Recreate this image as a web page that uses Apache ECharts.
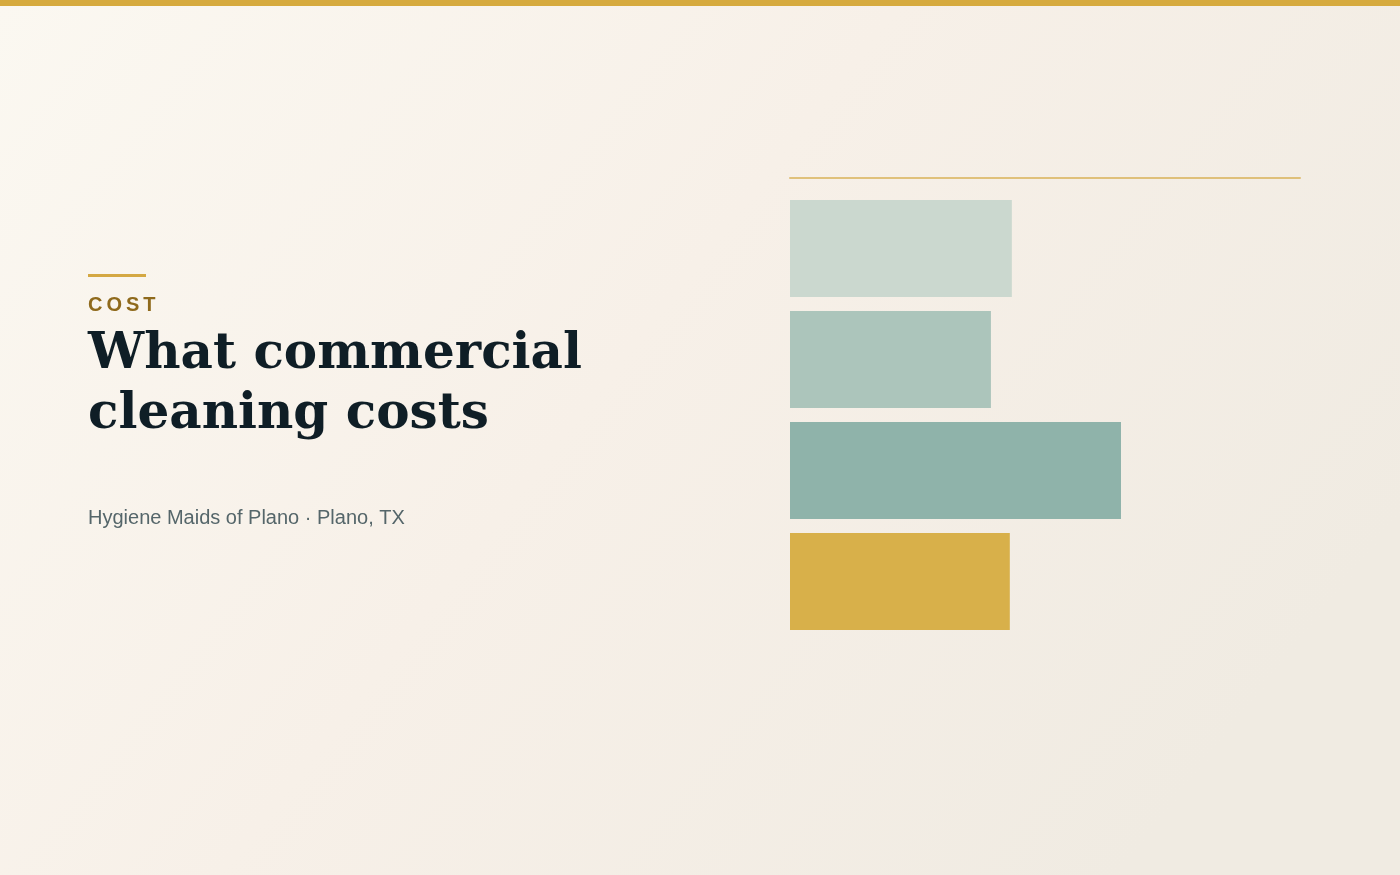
<!DOCTYPE html>
<html>
<head>
<meta charset="utf-8">
<script src="https://cdn.jsdelivr.net/npm/echarts@6/dist/echarts.min.js"></script>
<style>
html,body{margin:0;padding:0;width:1400px;height:875px;overflow:hidden;background:#f7f1e9;}
#chart{width:1400px;height:875px;}
</style>
</head>
<body>
<div id="chart"></div>
<script>
// Data
const categories = ["Option A", "Option B", "Option C", "Option D"];
const values = [43.5, 39.4, 64.9, 43.1];
const axisMax = 100;
const kicker = "COST";
const titleLines = ["What commercial", "cleaning costs"];
const subtitle = "Hygiene Maids of Plano \u00b7 Plano, TX";

// Styles
const barColors = ["#cbd8cf", "#acc5bb", "#8fb3aa", "#d8b04a"];

const chart = echarts.init(document.getElementById('chart'), null, {renderer: 'canvas'});

const kickerRich = kicker.split('').map(c => '{k|' + c + '}').join('');

const option = {
  animation: false,
  backgroundColor: {
    type: 'linear', x: 0, y: 0, x2: 0.8, y2: 1,
    colorStops: [
      {offset: 0, color: '#fbf8f1'},
      {offset: 0.5, color: '#f7f0e8'},
      {offset: 1, color: '#f0ebe2'}
    ]
  },
  grid: {left: 790, top: 193, width: 510, height: 444, outerBoundsMode: 'none', containLabel: false},
  xAxis: {
    type: 'value', position: 'top', min: 0, max: axisMax, offset: 15,
    axisLine: {show: true, lineStyle: {color: 'rgba(212,168,64,0.65)', width: 2}},
    axisTick: {show: false}, axisLabel: {show: false}, splitLine: {show: false}
  },
  yAxis: {
    type: 'category', data: categories, inverse: true,
    axisLine: {show: false}, axisTick: {show: false}, axisLabel: {show: false}, splitLine: {show: false}
  },
  series: [{
    type: 'bar',
    data: values.map((v, i) => ({value: v, itemStyle: {color: barColors[i % barColors.length]}})),
    barCategoryGap: '12.6%',
    silent: true
  }],
  graphic: [
    {type: 'rect', left: 0, top: 0, shape: {width: 1400, height: 6}, style: {fill: '#d6aa3e'}, silent: true},
    {type: 'rect', shape: {x: 88, y: 274, width: 58, height: 3}, style: {fill: '#d4a843'}, silent: true},
    {type: 'text', x: 88, y: 305, style: {
      text: kickerRich, verticalAlign: 'middle', align: 'left',
      rich: {k: {fontFamily: 'Liberation Sans, Arial, sans-serif', fontWeight: 'bold', fontSize: 20, fill: '#8f6a1c', padding: [0, 4, 0, 0]}}
    }},
    {type: 'text', x: 88, y: 355, style: {
      text: titleLines[0], fontFamily: 'DejaVu Serif, serif', fontWeight: 'bold', fontSize: 50,
      fill: '#0f1e26', verticalAlign: 'middle', align: 'left'
    }},
    {type: 'text', x: 88, y: 415, style: {
      text: titleLines[1], fontFamily: 'DejaVu Serif, serif', fontWeight: 'bold', fontSize: 50,
      fill: '#0f1e26', verticalAlign: 'middle', align: 'left'
    }},
    {type: 'text', x: 88, y: 518, style: {
      text: subtitle, fontFamily: 'Liberation Sans, Arial, sans-serif', fontSize: 20,
      fill: '#55666a', verticalAlign: 'middle', align: 'left'
    }}
  ]
};
chart.setOption(option);
</script>
</body>
</html>
